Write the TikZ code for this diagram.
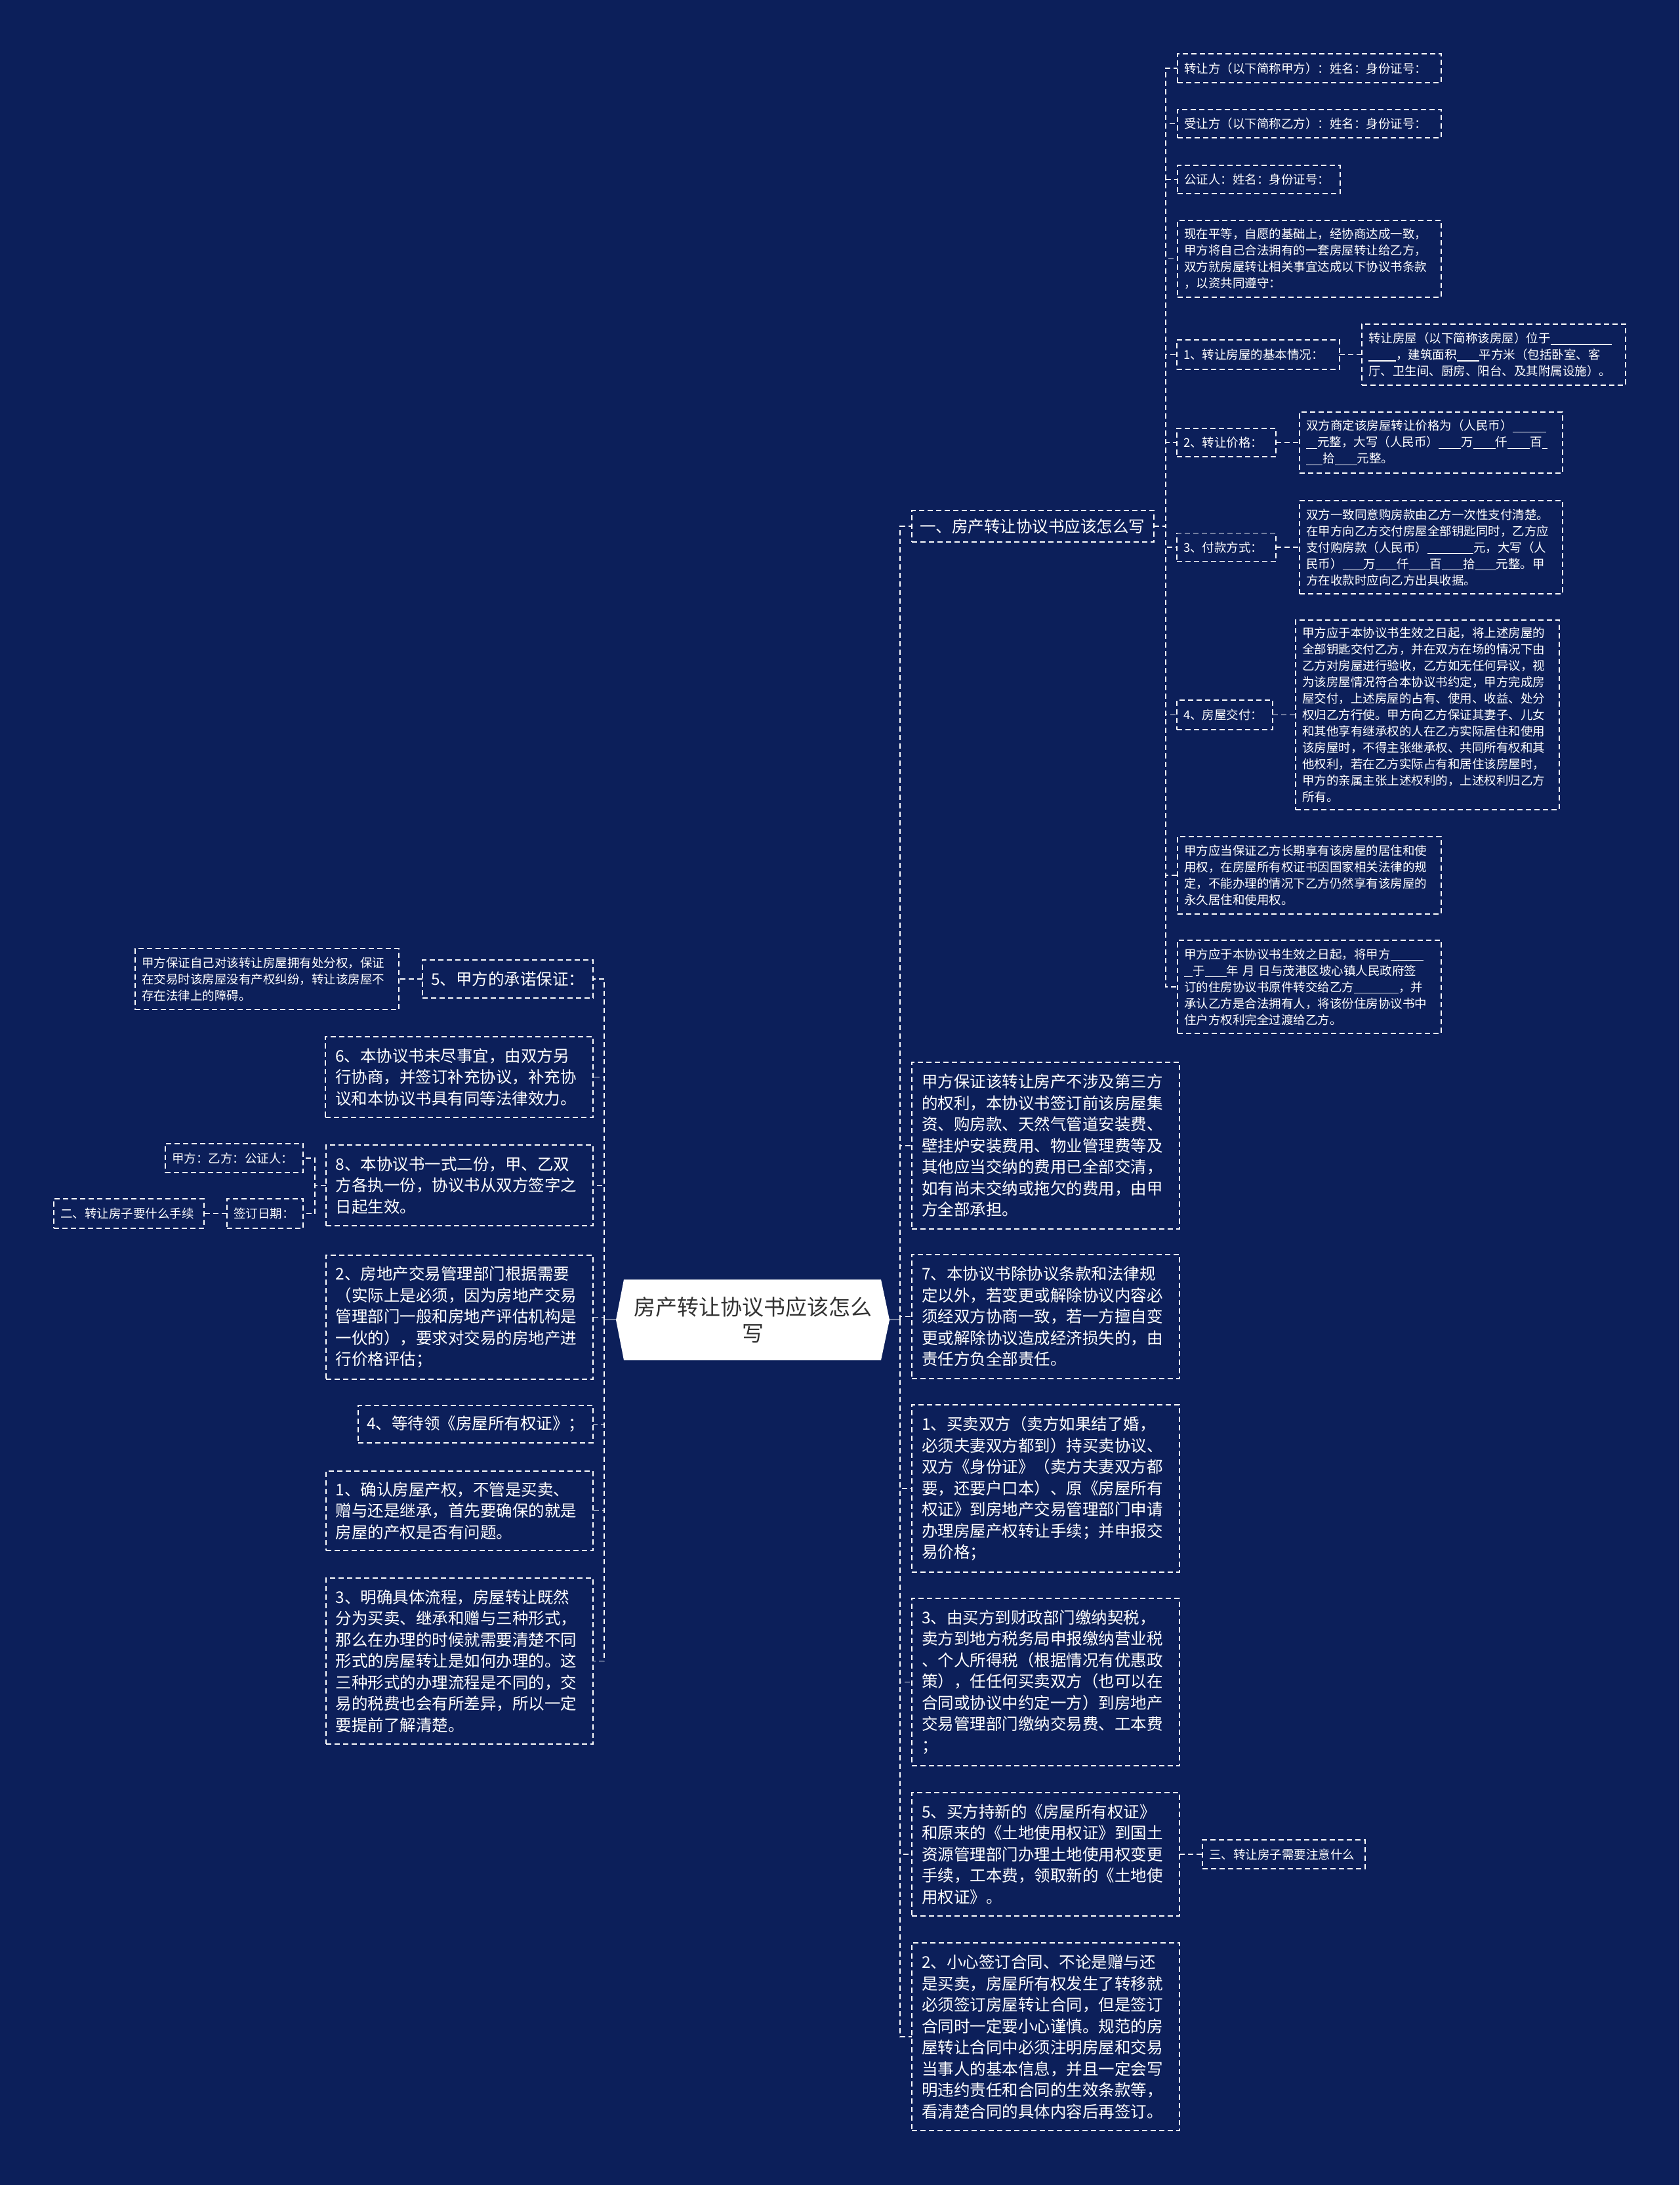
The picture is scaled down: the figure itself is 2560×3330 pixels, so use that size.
\documentclass[tikz,border=0pt]{standalone}
\usepackage{fontspec}
\setmainfont{Noto Sans CJK SC}
\definecolor{bgc}{RGB}{12,31,90}
\definecolor{rootc}{RGB}{51,51,51}
\newcommand{\myblk}[1]{\rule[-3pt]{#1pt}{1.3pt}}
\tikzset{
  conn/.style={draw=white, line width=1.6pt, dash pattern=on 8pt off 5pt},
  solidconn/.style={draw=white, line width=1.6pt},
  bx/.style={draw=white, line width=1.6pt, dash pattern=on 8pt off 5pt, text=white, inner sep=0pt, outer sep=0pt},
  big/.style={bx, font=\fontsize{24.5pt}{32.5pt}\selectfont},
  sml/.style={bx, font=\fontsize{18.5pt}{25pt}\selectfont},
  para/.style={align=left, text width=#1},
}
\begin{document}
\begin{tikzpicture}[x=1pt,y=-1pt]
\fill[bgc] (0,0) rectangle (2560,3330);
\useasboundingbox (0,0) rectangle (2560,3330);

% root hexagon
\fill[white] (939,2011.5) -- (951,1950) -- (1343,1950) -- (1356,2011.5) -- (1343,2073) -- (951,2073) -- cycle;
\node[inner sep=0pt, outer sep=0pt, minimum width=417pt, minimum height=123pt, align=center, text=rootc, font=\fontsize{33pt}{40pt}\selectfont] (root) at (1147.5,2011.5) {房产转让协议书应该怎么\\写};

% ---------- right branch 一 ----------
\node[big, minimum width=369pt, minimum height=48pt, para=345pt] (b1) at (1574.5,802) {一、房产转让协议书应该怎么写};

\node[sml, minimum width=402pt, minimum height=44pt, para=382pt] (r1) at (1996,104) {转让方（以下简称甲方）：姓名：身份证号：};
\node[sml, minimum width=402pt, minimum height=43pt, para=382pt] (r2) at (1996,188.5) {受让方（以下简称乙方）：姓名：身份证号：};
\node[sml, minimum width=248pt, minimum height=43pt, para=228pt] (r3) at (1919,273.5) {公证人：姓名：身份证号：};
\node[sml, minimum width=402pt, minimum height=117pt, para=382pt] (r4) at (1996,394.5) {现在平等，自愿的基础上，经协商达成一致，\\甲方将自己合法拥有的一套房屋转让给乙方，\\双方就房屋转让相关事宜达成以下协议书条款\\，以资共同遵守：};
\node[sml, minimum width=248pt, minimum height=45pt, para=228pt] (r5) at (1918,540.5) {1、转让房屋的基本情况：};
\node[sml, minimum width=402pt, minimum height=93pt, para=382pt] (r5c) at (2277,540.5) {转让房屋（以下简称该房屋）位于\myblk{93}\\\myblk{42}，建筑面积\myblk{34}平方米（包括卧室、客\\厅、卫生间、厨房、阳台、及其附属设施）。};
\node[sml, minimum width=151pt, minimum height=43pt, para=131pt] (r6) at (1869.5,674.5) {2、转让价格：};
\node[sml, minimum width=401pt, minimum height=93pt, para=381pt] (r6c) at (2181.5,674.5) {双方商定该房屋转让价格为（人民币）\myblk{51}\\\myblk{17}元整，大写（人民币）\myblk{34}万\myblk{34}仟\myblk{34}百\myblk{8}\\\myblk{25}拾\myblk{34}元整。};
\node[sml, minimum width=151pt, minimum height=43pt, para=131pt] (r7) at (1869.5,834) {3、付款方式：};
\node[sml, minimum width=401pt, minimum height=142pt, para=381pt] (r7c) at (2181.5,834) {双方一致同意购房款由乙方一次性支付清楚。\\在甲方向乙方交付房屋全部钥匙同时，乙方应\\支付购房款（人民币）\myblk{70}元，大写（人\\民币）\myblk{32}万\myblk{32}仟\myblk{32}百\myblk{32}拾\myblk{32}元整。甲\\方在收款时应向乙方出具收据。};
\node[sml, minimum width=146pt, minimum height=45pt, para=126pt] (r8) at (1867,1089.5) {4、房屋交付：};
\node[sml, minimum width=402pt, minimum height=289pt, para=382pt] (r8c) at (2176,1089.5) {甲方应于本协议书生效之日起，将上述房屋的\\全部钥匙交付乙方，并在双方在场的情况下由\\乙方对房屋进行验收，乙方如无任何异议，视\\为该房屋情况符合本协议书约定，甲方完成房\\屋交付，上述房屋的占有、使用、收益、处分\\权归乙方行使。甲方向乙方保证其妻子、儿女\\和其他享有继承权的人在乙方实际居住和使用\\该房屋时，不得主张继承权、共同所有权和其\\他权利，若在乙方实际占有和居住该房屋时，\\甲方的亲属主张上述权利的，上述权利归乙方\\所有。};
\node[sml, minimum width=402pt, minimum height=118pt, para=382pt] (r9) at (1996,1334) {甲方应当保证乙方长期享有该房屋的居住和使\\用权，在房屋所有权证书因国家相关法律的规\\定，不能办理的情况下乙方仍然享有该房屋的\\永久居住和使用权。};
\node[sml, minimum width=402pt, minimum height=142pt, para=382pt] (r10) at (1996,1504) {甲方应于本协议书生效之日起，将甲方\myblk{50}\\\myblk{13}于\myblk{33}年 月 日与茂港区坡心镇人民政府签\\订的住房协议书原件转交给乙方\myblk{68}，并\\承认乙方是合法拥有人，将该份住房协议书中\\住户方权利完全过渡给乙方。};

% ---------- right column ----------
\node[big, minimum width=408pt, minimum height=254pt, para=378pt] (ra) at (1594,1746) {甲方保证该转让房产不涉及第三方\\的权利，本协议书签订前该房屋集\\资、购房款、天然气管道安装费、\\壁挂炉安装费用、物业管理费等及\\其他应当交纳的费用已全部交清，\\如有尚未交纳或拖欠的费用，由甲\\方全部承担。};
\node[big, minimum width=408pt, minimum height=189pt, para=378pt] (rb) at (1594,2006.5) {7、本协议书除协议条款和法律规\\定以外，若变更或解除协议内容必\\须经双方协商一致，若一方擅自变\\更或解除协议造成经济损失的，由\\责任方负全部责任。};
\node[big, minimum width=408pt, minimum height=255pt, para=378pt] (rc) at (1594,2268.5) {1、买卖双方（卖方如果结了婚，\\必须夫妻双方都到）持买卖协议、\\双方《身份证》（卖方夫妻双方都\\要，还要户口本）、原《房屋所有\\权证》到房地产交易管理部门申请\\办理房屋产权转让手续；并申报交\\易价格；};
\node[big, minimum width=408pt, minimum height=255pt, para=378pt] (rd) at (1594,2563.5) {3、由买方到财政部门缴纳契税，\\卖方到地方税务局申报缴纳营业税\\、个人所得税（根据情况有优惠政\\策），任任何买卖双方（也可以在\\合同或协议中约定一方）到房地产\\交易管理部门缴纳交易费、工本费\\；};
\node[big, minimum width=408pt, minimum height=188pt, para=378pt] (re) at (1594,2826) {5、买方持新的《房屋所有权证》\\和原来的《土地使用权证》到国土\\资源管理部门办理土地使用权变更\\手续，工本费，领取新的《土地使\\用权证》。};
\node[sml, minimum width=248pt, minimum height=44pt, para=228pt] (re3) at (1957,2826) {三、转让房子需要注意什么};
\node[big, minimum width=408pt, minimum height=286pt, para=378pt] (rf) at (1594,3104) {2、小心签订合同、不论是赠与还\\是买卖，房屋所有权发生了转移就\\必须签订房屋转让合同，但是签订\\合同时一定要小心谨慎。规范的房\\屋转让合同中必须注明房屋和交易\\当事人的基本信息，并且一定会写\\明违约责任和合同的生效条款等，\\看清楚合同的具体内容后再签订。};

% ---------- left column ----------
\node[big, minimum width=260pt, minimum height=58pt, para=234pt] (l1) at (774,1492) {5、甲方的承诺保证：};
\node[sml, minimum width=402pt, minimum height=93pt, para=382pt] (l1c) at (407,1492) {甲方保证自己对该转让房屋拥有处分权，保证\\在交易时该房屋没有产权纠纷，转让该房屋不\\存在法律上的障碍。};
\node[big, minimum width=408pt, minimum height=123pt, para=378pt] (l2) at (700,1641.5) {6、本协议书未尽事宜，由双方另\\行协商，并签订补充协议，补充协\\议和本协议书具有同等法律效力。};
\node[big, minimum width=407pt, minimum height=123pt, para=378pt] (l3) at (700.5,1806.5) {8、本协议书一式二份，甲、乙双\\方各执一份，协议书从双方签字之\\日起生效。};
\node[sml, minimum width=210pt, minimum height=44pt, para=190pt] (l3a) at (357,1765) {甲方：乙方：公证人：};
\node[sml, minimum width=116pt, minimum height=45pt, para=96pt] (l3b) at (404,1849.5) {签订日期：};
\node[sml, minimum width=229pt, minimum height=45pt, para=209pt] (l3bb) at (196.5,1849.5) {二、转让房子要什么手续};
\node[big, minimum width=407pt, minimum height=189pt, para=378pt] (l4) at (700.5,2007.5) {2、房地产交易管理部门根据需要\\（实际上是必须，因为房地产交易\\管理部门一般和房地产评估机构是\\一伙的），要求对交易的房地产进\\行价格评估；};
\node[big, minimum width=358pt, minimum height=57pt, para=332pt] (l5) at (725,2170.5) {4、等待领《房屋所有权证》；};
\node[big, minimum width=407pt, minimum height=121pt, para=378pt] (l6) at (700.5,2302.5) {1、确认房屋产权，不管是买卖、\\赠与还是继承，首先要确保的就是\\房屋的产权是否有问题。};
\node[big, minimum width=407pt, minimum height=253pt, para=378pt] (l7) at (700.5,2531.5) {3、明确具体流程，房屋转让既然\\分为买卖、继承和赠与三种形式，\\那么在办理的时候就需要清楚不同\\形式的房屋转让是如何办理的。这\\三种形式的办理流程是不同的，交\\易的税费也会有所差异，所以一定\\要提前了解清楚。};

% ---------- connectors ----------
\coordinate (rbus) at ([xshift=16pt]root.east);
\coordinate (lbus) at ([xshift=-18pt]root.west);
\draw[solidconn] (root.east) -- (rbus);
\draw[solidconn] (root.west) -- (lbus);
\foreach \c in {b1,ra,rb,rc,rd,re,rf}
  \draw[conn] (rbus) |- (\c.west);
\foreach \c in {l1,l2,l3,l4,l5,l6,l7}
  \draw[conn] (lbus) |- (\c.east);
\foreach \c in {r1,r2,r3,r4,r5,r6,r7,r8,r9,r10}
  \draw[conn] (b1.east) -- ++(18,0) |- (\c.west);
\draw[conn] (r5.east) -- (r5c.west);
\draw[conn] (r6.east) -- (r6c.west);
\draw[conn] (r7.east) -- (r7c.west);
\draw[conn] (r8.east) -- (r8c.west);
\draw[conn] (re.east) -- (re3.west);
\draw[conn] (l1.west) -- (l1c.east);
\draw[conn] (l3.west) -- ++(-17,0) |- (l3a.east);
\draw[conn] (l3.west) -- ++(-17,0) |- (l3b.east);
\draw[conn] (l3b.west) -- (l3bb.east);
\end{tikzpicture}
\end{document}
